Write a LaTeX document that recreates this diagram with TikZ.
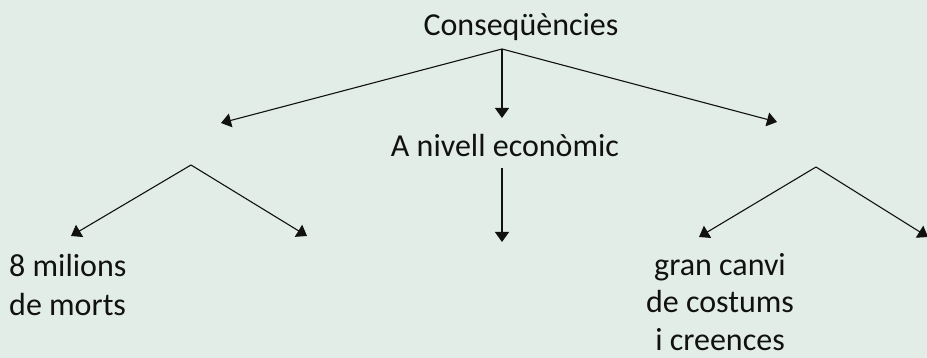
\documentclass[tikz,border=0pt]{standalone}
\usepackage{fontspec}
\setmainfont{Carlito}
\usetikzlibrary{arrows.meta}
\definecolor{bg}{RGB}{226,237,231}
\definecolor{ink}{RGB}{17,17,17}
\begin{document}
\begin{tikzpicture}[x=1pt,y=-1pt,
  lbl/.style={font=\fontsize{32}{39}\selectfont, text=ink, inner sep=0pt},
  conn/.style={draw=ink, line width=1.1pt, -{Triangle[length=10pt,width=14pt]}}]
\fill[bg] (0,0) rectangle (927,358);
\useasboundingbox (0,0) rectangle (927,358);
% texts
\node[lbl, anchor=base] (cons) at (521,36) {Conseqüències};
\node[lbl, anchor=base] (econ) at (505,157) {A nivell econòmic};
\node[lbl, anchor=base west, align=left] (morts) at (9,316) {8 milions\\de morts};
\node[lbl, anchor=base, align=center, font=\fontsize{32}{37.5}\selectfont] (canvi) at (720,350) {gran canvi\\de costums\\i creences};
% coordinates
\coordinate (apex) at (502,49);
\coordinate (tl) at (221,123);
\coordinate (tr) at (777,122);
\coordinate (td) at (502,118);
\coordinate (es) at (502,168);
\coordinate (ed) at (502,242);
\coordinate (la) at (191,165);
\coordinate (ll) at (71,236);
\coordinate (lr) at (307,236);
\coordinate (ra) at (816,167);
\coordinate (rl) at (699,237);
\coordinate (rr) at (928,237);
% connectors
\draw[conn] (apex) -- (tl);
\draw[conn] (apex) -- (tr);
\draw[conn] (apex) -- (td);
\draw[conn] (es) -- (ed);
\draw[conn] (la) -- (ll);
\draw[conn] (la) -- (lr);
\draw[conn] (ra) -- (rl);
\draw[conn] (ra) -- (rr);
\end{tikzpicture}
\end{document}
